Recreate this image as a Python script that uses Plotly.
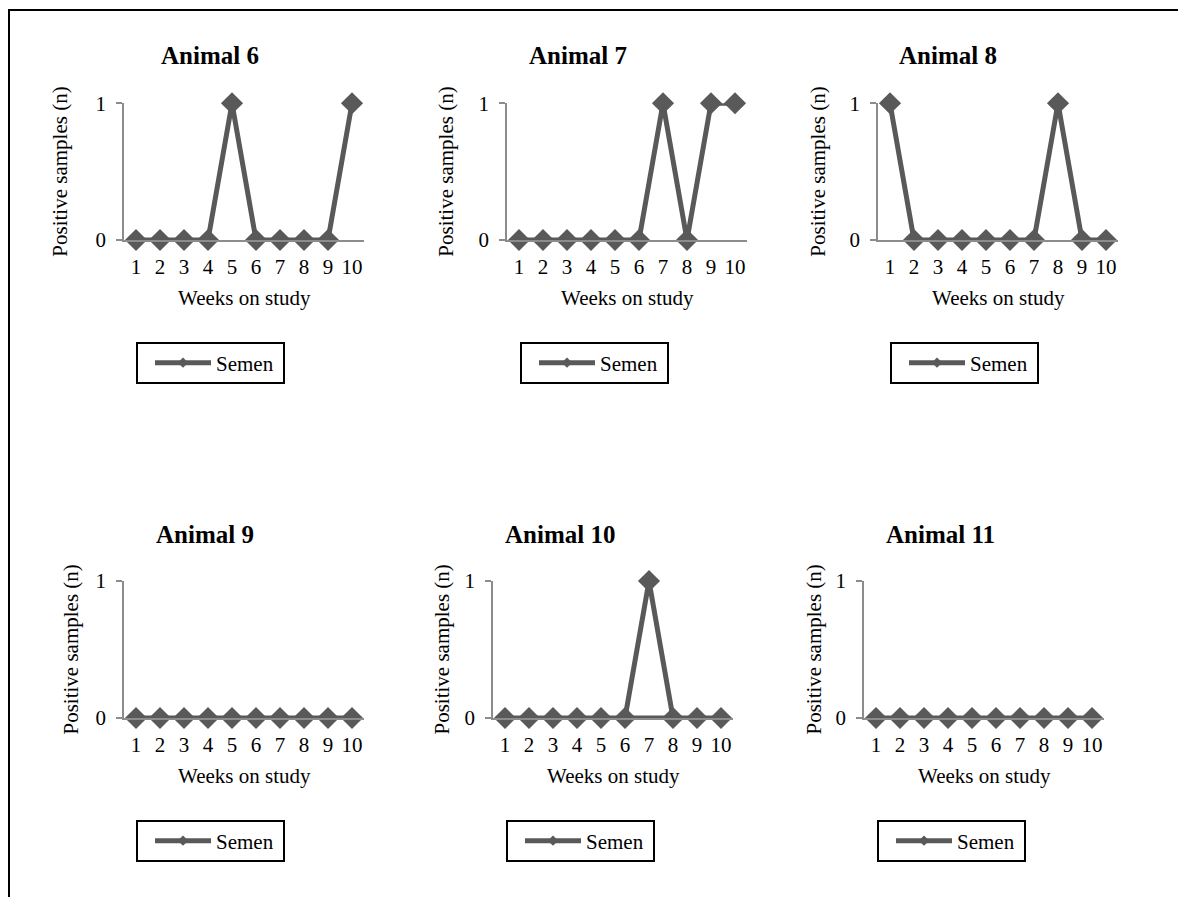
import plotly.graph_objects as go

# ---- data ----
weeks = [1, 2, 3, 4, 5, 6, 7, 8, 9, 10]
animal_names = ["Animal 6", "Animal 7", "Animal 8", "Animal 9", "Animal 10", "Animal 11"]
animal6 = [0, 0, 0, 0, 1, 0, 0, 0, 0, 1]
animal7 = [0, 0, 0, 0, 0, 0, 1, 0, 1, 1]
animal8 = [1, 0, 0, 0, 0, 0, 0, 1, 0, 0]
animal9 = [0, 0, 0, 0, 0, 0, 0, 0, 0, 0]
animal10 = [0, 0, 0, 0, 0, 0, 1, 0, 0, 0]
animal11 = [0, 0, 0, 0, 0, 0, 0, 0, 0, 0]
# extra baseline segment drawn in the Animal 10 panel
animal10_extra_weeks = [6, 8]
animal10_extra_values = [0, 0]
series_name = "Semen"
y_ticks = [0, 1]
x_title = "Weeks on study"
y_title = "Positive samples (n)"

series = [animal6, animal7, animal8, animal9, animal10, animal11]

# ---- layout geometry (pixels) ----
W, H = 1178, 897
PW = 240
plot_left = [124, 507, 878, 124, 493, 864]
plot_top = [103.3, 103.3, 103.3, 581, 581, 581]
plot_bot = [240, 240, 240, 718, 718, 718]
title_x = [210, 578, 948, 205, 560, 940]
title_y = [56, 56, 56, 534, 534, 534]
ytitle_x = [60, 446, 818, 70, 441, 813]
xtitle_y = [298, 298, 298, 776, 776, 776]
legend_box_left = [137, 521, 891, 137, 507, 878]
legend_box_top = [343, 343, 343, 821, 821, 821]
LEG_W, LEG_H = 147, 40

LINE = "#595959"
AX = "#8c8c8c"
FONT = "Liberation Serif"


def px(p):
    return p / W


def py(p):
    return 1 - p / H


fig = go.Figure()
layout = dict(
    width=W, height=H,
    margin=dict(l=0, r=0, t=0, b=0, autoexpand=False),
    paper_bgcolor="white", plot_bgcolor="white",
    font=dict(family=FONT, size=21, color="black"),
    annotations=[], shapes=[],
)

for i, (name, vals) in enumerate(zip(animal_names, series)):
    k = i + 1
    xa = "x" if k == 1 else f"x{k}"
    ya = "y" if k == 1 else f"y{k}"
    lg = "legend" if k == 1 else f"legend{k}"
    grp = f"g{k}"
    fig.add_trace(go.Scatter(
        x=weeks, y=vals, name=series_name, mode="lines+markers",
        xaxis=xa, yaxis=ya, legend=lg, legendgroup=grp, showlegend=False,
        cliponaxis=False,
        line=dict(color=LINE, width=5),
        marker=dict(symbol="diamond", size=17, color=LINE),
    ))
    # legend entry (small marker, as in the original legend key)
    fig.add_trace(go.Scatter(
        x=[None], y=[None], name=series_name, mode="lines+markers",
        xaxis=xa, yaxis=ya, legend=lg, legendgroup=grp, showlegend=True,
        line=dict(color=LINE, width=5),
        marker=dict(symbol="diamond", size=8, color=LINE),
    ))
    if name == "Animal 10":
        fig.add_trace(go.Scatter(
            x=animal10_extra_weeks, y=animal10_extra_values, name=series_name,
            mode="lines", xaxis=xa, yaxis=ya, legendgroup=grp, showlegend=False,
            cliponaxis=False, line=dict(color=LINE, width=5),
        ))
    l = plot_left[i]
    layout[f"xaxis{'' if k == 1 else k}"] = dict(
        domain=[px(l), px(l + PW)], anchor=ya, range=[0.5, 10.5],
        tickvals=weeks, ticktext=[str(w) for w in weeks],
        showline=True, linecolor=AX, linewidth=1.5, ticks="",
        showgrid=False, zeroline=False, fixedrange=True, automargin=False,
        tickfont=dict(size=21), ticklabelstandoff=7,
    )
    layout[f"yaxis{'' if k == 1 else k}"] = dict(
        domain=[py(plot_bot[i]), py(plot_top[i])], anchor=xa, range=[0, 1],
        tickvals=y_ticks, showline=True, linecolor=AX, linewidth=1.5,
        ticks="outside", ticklen=6, tickcolor=AX, tickwidth=1.5,
        showgrid=False, zeroline=False, fixedrange=True, automargin=False,
        tickfont=dict(size=21), ticklabelstandoff=6,
    )
    bl, bt = legend_box_left[i], legend_box_top[i]
    layout[lg] = dict(
        x=px(bl + 13), y=py(bt + LEG_H / 2), xanchor="left", yanchor="middle",
        xref="paper", yref="paper",
        bgcolor="rgba(0,0,0,0)", borderwidth=0,
        font=dict(family=FONT, size=21, color="black"),
        orientation="h", itemsizing="trace", itemwidth=56,
    )
    layout["shapes"].append(dict(
        type="rect", xref="paper", yref="paper",
        x0=px(bl), x1=px(bl + LEG_W), y0=py(bt + LEG_H), y1=py(bt),
        line=dict(color="black", width=2), fillcolor="white", layer="below",
    ))
    layout["annotations"] += [
        dict(text=name, x=px(title_x[i]), y=py(title_y[i]), xref="paper", yref="paper",
             showarrow=False, xanchor="center", yanchor="middle",
             font=dict(family=FONT, size=25, color="black", weight="bold")),
        dict(text=y_title, x=px(ytitle_x[i]), y=py((plot_top[i] + plot_bot[i]) / 2),
             xref="paper", yref="paper", showarrow=False, textangle=-90,
             xanchor="center", yanchor="middle", font=dict(family=FONT, size=21, color="black")),
        dict(text=x_title, x=px(l + PW / 2), y=py(xtitle_y[i]), xref="paper", yref="paper",
             showarrow=False, xanchor="center", yanchor="middle",
             font=dict(family=FONT, size=21, color="black")),
    ]

# outer frame
layout["shapes"] += [
    dict(type="line", xref="paper", yref="paper", x0=px(8), x1=px(1178), y0=py(10), y1=py(10),
         line=dict(color="black", width=2)),
    dict(type="line", xref="paper", yref="paper", x0=px(9), x1=px(9), y0=py(10), y1=py(897),
         line=dict(color="black", width=2)),
]

fig.update_layout(**layout)
fig.write_html(
    "out.html",
    config={"displayModeBar": False},
    post_script=(
        "document.documentElement.style.margin='0';document.documentElement.style.padding='0';"
        "document.body.style.margin='0';document.body.style.padding='0';"
        "document.body.style.overflow='hidden';"
        "var d=document.getElementById('{plot_id}');"
        "d.style.position='fixed';d.style.top='0px';d.style.left='0px';"
    ),
)
